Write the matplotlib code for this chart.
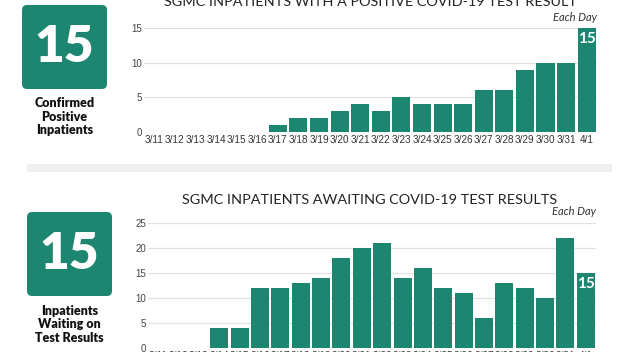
import numpy as np
import matplotlib.pyplot as plt
from matplotlib.patches import FancyBboxPatch, Rectangle

dias = ['3/11', '3/12', '3/13', '3/14', '3/15', '3/16', '3/17', '3/18', '3/19', '3/20', '3/21',
        '3/22', '3/23', '3/24', '3/25', '3/26', '3/27', '3/28', '3/29', '3/30', '3/31', '4/1']
positivos = [0, 0, 0, 0, 0, 0, 1, 2, 2, 3, 4, 3, 5, 4, 4, 4, 6, 6, 9, 10, 10, 15]
aguardando = [0, 0, 0, 4, 4, 12, 12, 13, 14, 18, 20, 21, 14, 16, 12, 11, 6, 13, 12, 10, 22, 15]

titulo_topo = "SGMC INPATIENTS WITH A POSITIVE COVID-19 TEST RESULT"
titulo_baixo = "SGMC INPATIENTS AWAITING COVID-19 TEST RESULTS"
rotulo_topo = "Confirmed\nPositive\nInpatients"
rotulo_baixo = "Inpatients\nWaiting on\nTest Results"

verde = '#1d8671'
W, H = 622, 352

fig = plt.figure(figsize=(6.22, 3.52), dpi=100)
fig.patch.set_facecolor('white')


def px(x0, y0, x1, y1):
    # caixa em pixels (origem no topo) -> fração da figura
    return [x0 / W, 1 - y1 / H, (x1 - x0) / W, (y1 - y0) / H]


def grafico(rect, valores, ymax, passo):
    ax = fig.add_axes(rect)
    x = np.arange(len(dias))
    ax.bar(x, valores, width=0.88, color=verde, zorder=3)
    ax.set_xlim(-0.5, len(dias) - 0.5)
    ax.set_ylim(0, ymax)
    ax.set_yticks(np.arange(0, ymax + 1, passo))
    ax.set_xticks(x)
    ax.set_xticklabels(dias, fontsize=7.2, color='#333333', family='Liberation Sans')
    ax.tick_params(axis='y', labelsize=7, colors='#444444', length=0, pad=1.5)
    ax.tick_params(axis='x', length=0, pad=2)
    for lab in ax.get_yticklabels():
        lab.set_family('Liberation Sans')
    ax.grid(axis='y', color='#e2e2e2', linewidth=0.9, zorder=0)
    for s in ax.spines.values():
        s.set_visible(False)
    ax.text(len(dias) - 1, valores[-1] - ymax * 0.035, str(valores[-1]), ha='center', va='top',
            color='white', fontsize=11, fontweight='bold', family='Lato', zorder=4)
    ax.text(1.0, 1.05, "Each Day", transform=ax.transAxes, ha='right', va='bottom',
            fontsize=8, style='italic', color='#333333', family='Lato')
    return ax


def caixa(rect, rotulo, y_texto):
    axb = fig.add_axes(rect)
    axb.set_xlim(0, 84)
    axb.set_ylim(0, 84)
    axb.axis('off')
    axb.add_patch(FancyBboxPatch((3, 3), 78, 78, boxstyle='round,pad=3,rounding_size=5',
                                 facecolor=verde, edgecolor='none'))
    axb.text(42, 42, "15", ha='center', va='center', color='white', fontsize=37,
             fontweight='heavy', family='Lato')
    cx = (rect[0] + rect[2] / 2)
    fig.text(cx, y_texto, rotulo, ha='center', va='top', fontsize=9, fontweight='heavy',
             family='Lato', color='#111111', linespacing=1.15)


grafico(px(144, 28, 597, 132), positivos, 15, 5)
grafico(px(148, 223, 596, 348), aguardando, 25, 5)

caixa(px(22, 5, 107, 89), rotulo_topo, 1 - 97 / H)
caixa(px(27, 212, 112, 296), rotulo_baixo, 1 - 305 / H)

fig.text(370 / W, 1 - 6 / H, titulo_topo, ha='center', va='baseline', fontsize=10.4,
         family='Lato', color='#222222')
fig.text(370 / W, 1 - 204 / H, titulo_baixo, ha='center', va='baseline', fontsize=10.4,
         family='Lato', color='#222222')

fig.patches.append(Rectangle((27 / W, 1 - 172 / H), 585 / W, 8 / H, transform=fig.transFigure,
                             facecolor='#efefef', edgecolor='none'))

plt.savefig('out.png', dpi=100)
